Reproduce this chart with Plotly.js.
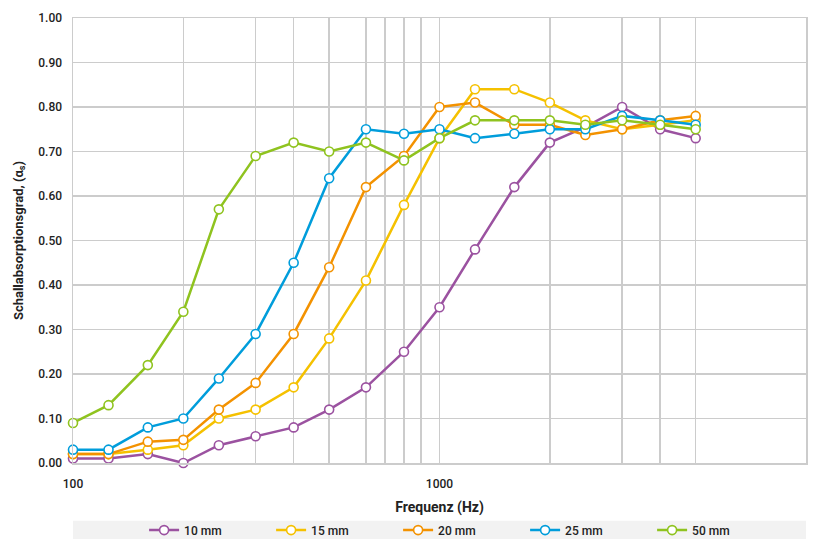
<!DOCTYPE html>
<html>
<head>
<meta charset="utf-8">
<script src="https://cdn.plot.ly/plotly-3.0.1.min.js"></script>
<style>html,body{margin:0;padding:0;background:#fff;}#chart{width:823px;height:539px;}</style>
</head>
<body>
<div id="chart"></div>
<script>
const frequencies = [100, 125, 160, 200, 250, 315, 400, 500, 630, 800, 1000, 1250, 1600, 2000, 2500, 3150, 4000, 5000];
const mm10 = [0.01, 0.01, 0.02, 0.00, 0.04, 0.06, 0.08, 0.12, 0.17, 0.25, 0.35, 0.48, 0.62, 0.72, 0.755, 0.80, 0.75, 0.73];
const mm15 = [0.02, 0.02, 0.03, 0.04, 0.10, 0.12, 0.17, 0.28, 0.41, 0.58, 0.73, 0.84, 0.84, 0.81, 0.77, 0.75, 0.76, 0.77];
const mm20 = [0.02, 0.02, 0.048, 0.052, 0.12, 0.18, 0.29, 0.44, 0.62, 0.69, 0.80, 0.81, 0.76, 0.76, 0.737, 0.75, 0.77, 0.78];
const mm25 = [0.03, 0.03, 0.08, 0.10, 0.19, 0.29, 0.45, 0.64, 0.75, 0.74, 0.75, 0.73, 0.74, 0.75, 0.75, 0.78, 0.77, 0.76];
const mm50 = [0.09, 0.13, 0.22, 0.34, 0.57, 0.69, 0.72, 0.70, 0.72, 0.68, 0.73, 0.77, 0.77, 0.77, 0.76, 0.77, 0.76, 0.75];
const seriesNames = ['10 mm', '15 mm', '20 mm', '25 mm', '50 mm'];
const seriesColors = ['#9b52a0', '#f5c100', '#f39200', '#009ddb', '#8fc31f'];
const xTickVals = [100, 1000, 10000];
const xTickText = ['100', '1000', '10000'];
const minorGridFreqs = [200, 315, 400, 500, 630, 710, 800, 890, 2000, 3150, 4000, 5000];
const yTicks = [0, 0.1, 0.2, 0.3, 0.4, 0.5, 0.6, 0.7, 0.8, 0.9, 1.0];

const allSeries = [mm10, mm15, mm20, mm25, mm50];
const traces = allSeries.map((vals, i) => ({
  x: frequencies,
  y: vals,
  name: seriesNames[i],
  type: 'scatter',
  mode: 'lines+markers',
  line: {color: seriesColors[i], width: 2.5},
  marker: {symbol: 'circle', size: 9, color: '#ffffff', line: {color: seriesColors[i], width: 1.6}},
  cliponaxis: false
}));

const fam = 'Roboto, "Noto Sans", sans-serif';
const layout = {
  width: 823, height: 539,
  margin: {l: 73, r: 17, t: 18, b: 76},
  paper_bgcolor: '#ffffff', plot_bgcolor: '#ffffff',
  font: {family: fam, size: 12, color: '#222'},
  showlegend: true,
  xaxis: {
    type: 'log', range: [2, 4], automargin: false,
    tickmode: 'array', tickvals: xTickVals, ticktext: xTickText,
    showgrid: true, gridcolor: '#cccccc', gridwidth: 1.5,
    minor: {tickmode: 'array', tickvals: minorGridFreqs, showgrid: true, gridcolor: '#cccccc', gridwidth: 1.5, ticks: ''},
    showline: true, linecolor: '#cccccc', linewidth: 1.5, mirror: true,
    zeroline: false, ticks: '', ticklabelstandoff: 9,
    tickfont: {family: fam, size: 12, color: '#222', weight: 500},
    title: {text: 'Frequenz (Hz)', font: {family: fam, size: 14, color: '#222', weight: 700}, standoff: 12}
  },
  yaxis: {
    range: [0, 1], automargin: false, tickmode: 'array', tickvals: yTicks, tickformat: '.2f',
    showgrid: true, gridcolor: '#cccccc', gridwidth: 1.5,
    showline: true, linecolor: '#cccccc', linewidth: 1.5, mirror: true,
    zeroline: false, ticks: '', ticklabelstandoff: 7,
    tickfont: {family: fam, size: 12, color: '#222', weight: 500},
    title: {text: 'Schallabsorptionsgrad, (α<sub>s</sub>)', font: {family: fam, size: 13, color: '#222', weight: 700}, standoff: 12}
  },
  legend: {
    orientation: 'h', x: 0.097, xanchor: 'left', yref: 'container', y: 0.0165, yanchor: 'middle',
    bgcolor: 'rgba(0,0,0,0)', font: {family: fam, size: 12, color: '#222', weight: 500},
    entrywidth: 82, entrywidthmode: 'pixels', traceorder: 'normal'
  },
  shapes: [{
    type: 'rect', xref: 'paper', yref: 'paper', x0: 0, x1: 1, y0: -0.172, y1: -0.130,
    fillcolor: '#f2f2f2', line: {width: 0}, layer: 'below'
  }]
};

Plotly.newPlot('chart', traces, layout, {displayModeBar: false, staticPlot: true});
</script>
</body>
</html>
